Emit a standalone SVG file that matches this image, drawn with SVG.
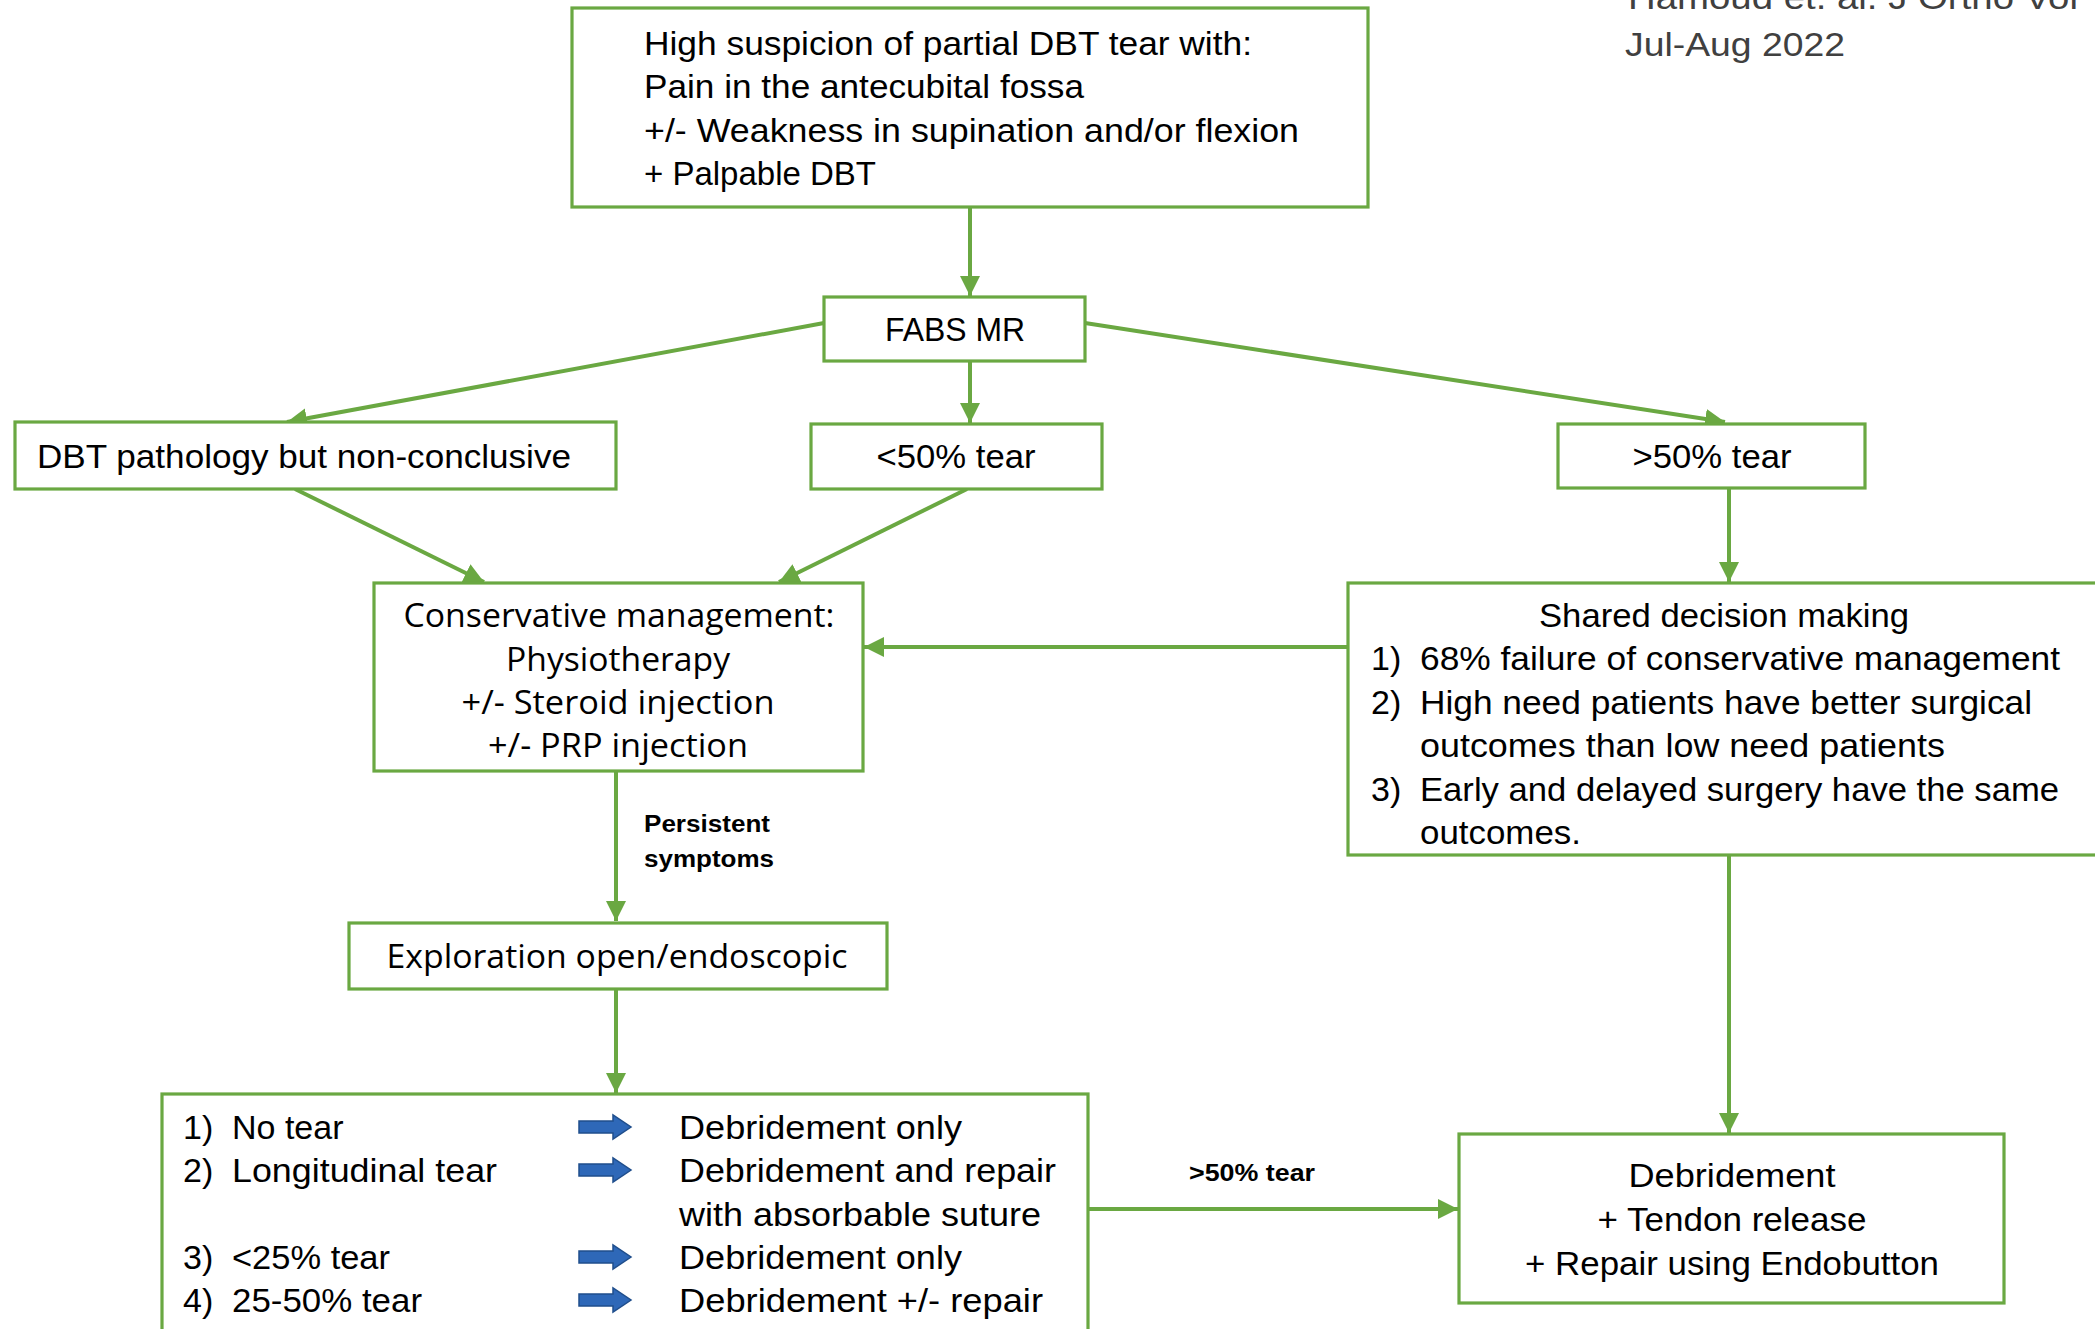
<svg xmlns="http://www.w3.org/2000/svg" width="2095" height="1329" viewBox="0 0 2095 1329">
<style>
.box{fill:#fff;stroke:#6AA842;stroke-width:3.2}
.c{fill:none;stroke:#6AA842;stroke-width:4;marker-end:url(#ah)}
.t{font-family:"Liberation Sans",Arial,sans-serif;font-size:34px;fill:#000}
.o{font-family:"Open Sans","Liberation Sans",sans-serif;font-size:32px;fill:#000}
.b{font-family:"Liberation Sans",Arial,sans-serif;font-size:23px;font-weight:bold;fill:#000}
.g{font-family:"Liberation Sans",Arial,sans-serif;font-size:34px;fill:#404040}
.m{text-anchor:middle}
.ba{fill:#2E68B8;stroke:#1F4E8C;stroke-width:1.5}
</style>
<defs>
<marker id="ah" markerUnits="userSpaceOnUse" markerWidth="22" markerHeight="22" refX="20" refY="11" orient="auto">
<path d="M0,1 L20,11 L0,21 Z" fill="#6AA842"/>
</marker>
<path id="blue" d="M0,-6 H34 V-12 L52,0 L34,12 V6 H0 Z"/>
</defs>
<rect width="2095" height="1329" fill="#fff"/>

<g id="citation">
<text class="g" x="1628" y="9" textLength="450" lengthAdjust="spacingAndGlyphs">Hamoud et. al. J Ortho Vol</text>
<text class="g" x="1625" y="56" textLength="220" lengthAdjust="spacingAndGlyphs">Jul-Aug 2022</text>
</g>

<g id="connectors">
<path class="c" d="M970,207 V296"/>
<path class="c" d="M824,323 L287,422"/>
<path class="c" d="M970,361 V423"/>
<path class="c" d="M1085,323 L1725,422"/>
<path class="c" d="M295,489 L484,582"/>
<path class="c" d="M967,489 L779,582"/>
<path class="c" d="M1729,488 V582"/>
<path class="c" d="M1348,647 H864"/>
<path class="c" d="M616,771 V921"/>
<path class="c" d="M616,989 V1093"/>
<path class="c" d="M1729,855 V1133"/>
<path class="c" d="M1088,1209 H1458"/>
<text class="b" x="644" y="832" textLength="126" lengthAdjust="spacingAndGlyphs">Persistent</text>
<text class="b" x="644" y="867" textLength="130" lengthAdjust="spacingAndGlyphs">symptoms</text>
<text class="b" x="1189" y="1181" textLength="126" lengthAdjust="spacingAndGlyphs">&gt;50% tear</text>
</g>

<g id="suspicion">
<rect class="box" x="572" y="8" width="796" height="199"/>
<text class="t" x="644" y="55" textLength="608" lengthAdjust="spacingAndGlyphs">High suspicion of partial DBT tear with:</text>
<text class="t" x="644" y="98" textLength="440" lengthAdjust="spacingAndGlyphs">Pain in the antecubital fossa</text>
<text class="t" x="644" y="142" textLength="655" lengthAdjust="spacingAndGlyphs">+/- Weakness in supination and/or flexion</text>
<text class="t" x="644" y="185" textLength="232" lengthAdjust="spacingAndGlyphs">+ Palpable DBT</text>
</g>

<g id="fabs">
<rect class="box" x="824" y="297" width="261" height="64"/>
<text class="t m" x="955" y="341" textLength="140" lengthAdjust="spacingAndGlyphs">FABS MR</text>
</g>

<g id="nonconclusive">
<rect class="box" x="15" y="422" width="601" height="67"/>
<text class="t" x="37" y="468" textLength="534" lengthAdjust="spacingAndGlyphs">DBT pathology but non-conclusive</text>
</g>

<g id="lt50">
<rect class="box" x="811" y="424" width="291" height="65"/>
<text class="t m" x="956" y="468" textLength="159" lengthAdjust="spacingAndGlyphs">&lt;50% tear</text>
</g>

<g id="gt50">
<rect class="box" x="1558" y="424" width="307" height="64"/>
<text class="t m" x="1712" y="468" textLength="159" lengthAdjust="spacingAndGlyphs">&gt;50% tear</text>
</g>

<g id="conservative">
<rect class="box" x="374" y="583" width="489" height="188"/>
<text class="o m" x="619" y="627" textLength="431" lengthAdjust="spacingAndGlyphs">Conservative management:</text>
<text class="o m" x="618" y="671" textLength="224" lengthAdjust="spacingAndGlyphs">Physiotherapy</text>
<text class="o m" x="618" y="714" textLength="313" lengthAdjust="spacingAndGlyphs">+/- Steroid injection</text>
<text class="o m" x="618" y="757" textLength="260" lengthAdjust="spacingAndGlyphs">+/- PRP injection</text>
</g>

<g id="shared">
<rect class="box" x="1348" y="583" width="760" height="272"/>
<text class="t m" x="1724" y="627" textLength="370" lengthAdjust="spacingAndGlyphs">Shared decision making</text>
<text class="t" x="1371" y="670">1)</text>
<text class="t" x="1420" y="670" textLength="640" lengthAdjust="spacingAndGlyphs">68% failure of conservative management</text>
<text class="t" x="1371" y="714">2)</text>
<text class="t" x="1420" y="714" textLength="612" lengthAdjust="spacingAndGlyphs">High need patients have better surgical</text>
<text class="t" x="1420" y="757" textLength="525" lengthAdjust="spacingAndGlyphs">outcomes than low need patients</text>
<text class="t" x="1371" y="801">3)</text>
<text class="t" x="1420" y="801" textLength="639" lengthAdjust="spacingAndGlyphs">Early and delayed surgery have the same</text>
<text class="t" x="1420" y="844" textLength="161" lengthAdjust="spacingAndGlyphs">outcomes.</text>
</g>

<g id="exploration">
<rect class="box" x="349" y="923" width="538" height="66"/>
<text class="o m" x="617" y="968" textLength="461" lengthAdjust="spacingAndGlyphs">Exploration open/endoscopic</text>
</g>

<g id="findings">
<rect class="box" x="162" y="1094" width="926" height="260"/>
<text class="t" x="183" y="1139">1)</text>
<text class="t" x="232" y="1139">No tear</text>
<text class="t" x="183" y="1182">2)</text>
<text class="t" x="232" y="1182" textLength="265" lengthAdjust="spacingAndGlyphs">Longitudinal tear</text>
<text class="t" x="183" y="1269">3)</text>
<text class="t" x="232" y="1269" textLength="158" lengthAdjust="spacingAndGlyphs">&lt;25% tear</text>
<text class="t" x="183" y="1312">4)</text>
<text class="t" x="232" y="1312" textLength="190" lengthAdjust="spacingAndGlyphs">25-50% tear</text>
<use href="#blue" class="ba" x="579" y="1127"/>
<use href="#blue" class="ba" x="579" y="1170"/>
<use href="#blue" class="ba" x="579" y="1257"/>
<use href="#blue" class="ba" x="579" y="1300"/>
<text class="t" x="679" y="1139" textLength="283" lengthAdjust="spacingAndGlyphs">Debridement only</text>
<text class="t" x="679" y="1182" textLength="377" lengthAdjust="spacingAndGlyphs">Debridement and repair</text>
<text class="t" x="679" y="1226" textLength="362" lengthAdjust="spacingAndGlyphs">with absorbable suture</text>
<text class="t" x="679" y="1269" textLength="283" lengthAdjust="spacingAndGlyphs">Debridement only</text>
<text class="t" x="679" y="1312" textLength="364" lengthAdjust="spacingAndGlyphs">Debridement +/- repair</text>
</g>

<g id="surgery">
<rect class="box" x="1459" y="1134" width="545" height="169"/>
<text class="t m" x="1732" y="1187" textLength="207" lengthAdjust="spacingAndGlyphs">Debridement</text>
<text class="t m" x="1732" y="1231" textLength="269" lengthAdjust="spacingAndGlyphs">+ Tendon release</text>
<text class="t m" x="1732" y="1275" textLength="414" lengthAdjust="spacingAndGlyphs">+ Repair using Endobutton</text>
</g>
</svg>
